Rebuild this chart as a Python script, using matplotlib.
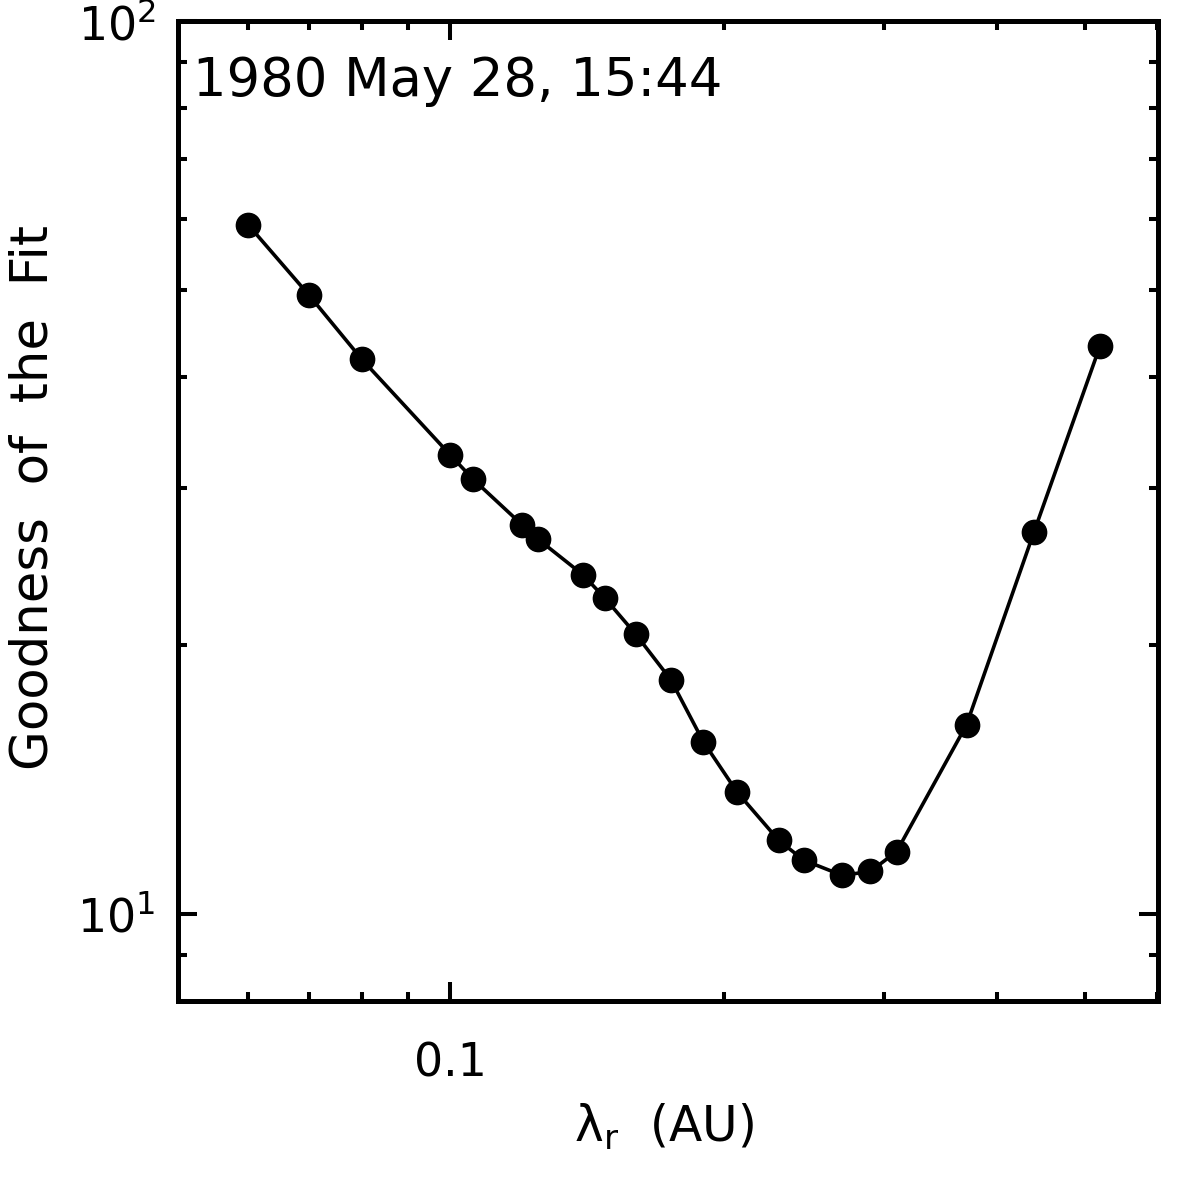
import matplotlib
matplotlib.use("Agg")
import matplotlib.pyplot as plt
from matplotlib.ticker import LogLocator, NullFormatter, FuncFormatter

# goodness of fit vs radial mean free path
lam_r = [0.060, 0.070, 0.080, 0.100, 0.106, 0.120, 0.125, 0.140, 0.148, 0.160,
         0.175, 0.190, 0.207, 0.230, 0.245, 0.270, 0.290, 0.310, 0.370, 0.439, 0.519]
goodness = [59.1, 49.3, 41.8, 32.7, 30.7, 27.3, 26.3, 24.0, 22.6, 20.6,
            18.3, 15.6, 13.7, 12.1, 11.5, 11.06, 11.17, 11.76, 16.3, 26.8, 43.3]

title = "1980 May 28, 15:44"
xlabel = "λ$_\\mathregular{r}$  (AU)"
ylabel = "Goodness  of  the  Fit"

plt.rcParams['font.family'] = ['DejaVu Sans']

fig = plt.figure(figsize=(11.79, 11.79), dpi=100)
ax = fig.add_axes([178/1179, 1 - 1001/1179, 980/1179, 980/1179])

ax.plot(lam_r, goodness, color="black", linewidth=2.6, marker="o",
        markersize=17.5, markerfacecolor="black", markeredgecolor="black")

ax.set_xscale("log")
ax.set_yscale("log")
ax.set_xlim(0.0502, 0.601)
ax.set_ylim(8.0, 100)

ax.xaxis.set_major_locator(LogLocator(base=10))
ax.xaxis.set_minor_locator(LogLocator(base=10, subs=range(2, 10)))
ax.xaxis.set_major_formatter(FuncFormatter(lambda v, p: "%g" % v))
ax.xaxis.set_minor_formatter(NullFormatter())
ax.yaxis.set_minor_locator(LogLocator(base=10, subs=range(2, 10)))
ax.yaxis.set_minor_formatter(NullFormatter())

for s in ax.spines.values():
    s.set_linewidth(3.6)

ax.tick_params(which="both", direction="in", top=True, right=True, width=2.9)
ax.tick_params(which="major", length=13.7, labelsize=33)
ax.tick_params(which="minor", length=6.5)
ax.tick_params(axis="x", which="major", pad=29)
ax.tick_params(axis="y", which="major", pad=16)

ax.text((193 - 178)/980, (1001 - 96)/980, title, transform=ax.transAxes,
        fontsize=38, ha="left", va="baseline")

fig.text(34/1179, 1 - 497/1179, ylabel, rotation=90, fontsize=37, ha="center", va="center")
fig.text(664/1179, 1 - 1142/1179, xlabel, fontsize=35, ha="center", va="baseline")

fig.savefig("out.png", dpi=100)
